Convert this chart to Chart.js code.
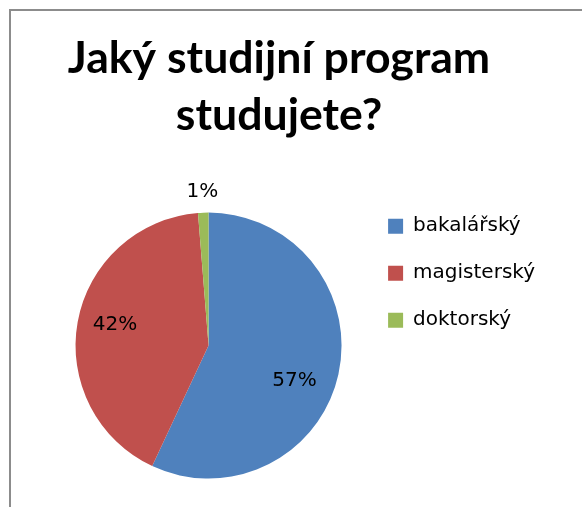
<!DOCTYPE html>
<html lang="cs">
<head>
  <meta charset="UTF-8" />
  <title>Jaký studijní program studujete?</title>
  <script src="https://cdn.jsdelivr.net/npm/chart.js"></script>
  <style>
    html, body { margin: 0; padding: 0; background: #fff; overflow: hidden; }
    .frame { position: absolute; left: 9px; top: 9px; width: 700px; height: 600px;
             border-left: 2px solid #8c8c8c; border-top: 2px solid #8c8c8c; }
    canvas { position: absolute; left: 0; top: 0; }
  </style>
</head>
<body>
  <div class="frame"></div>
  <canvas id="chart" width="582" height="507"></canvas>

  <script>
    // answers (respondent counts)
    const categories = ["bakalářský", "magisterský", "doktorský"];
    const counts = [45, 33, 1];
    const colors = ["#4F81BD", "#C0504D", "#9BBB59"];
    const titleLines = ["Jaký studijní program", "studujete?"];

    // trim the plot area on the left so the pie sits right of the title centre
    const leftGap = {
      id: "leftGap",
      afterLayout(chart, args, opts) {
        chart.chartArea.left += opts.width;
        chart.chartArea.width -= opts.width;
      }
    };

    // percent labels, placed on each slice by its own angle
    const pctLabels = {
      id: "pctLabels",
      afterDatasetsDraw(chart, args, opts) {
        const ctx = chart.ctx;
        const meta = chart.getDatasetMeta(0);
        const data = chart.data.datasets[0].data;
        const total = data.reduce((a, b) => a + b, 0);
        ctx.save();
        ctx.font = opts.font;
        ctx.fillStyle = "#000";
        ctx.textAlign = "center";
        ctx.textBaseline = "middle";
        meta.data.forEach((arc, i) => {
          const p = arc.getProps(["x", "y", "startAngle", "endAngle", "outerRadius"], true);
          const mid = (p.startAngle + p.endAngle) / 2 + opts.turn[i] * Math.PI / 180;
          const r = p.outerRadius * opts.radius[i];
          const txt = Math.round(data[i] / total * 100) + "%";
          ctx.fillText(txt, p.x + Math.cos(mid) * r, p.y + Math.sin(mid) * r);
        });
        ctx.restore();
      }
    };

    new Chart(document.getElementById("chart"), {
      type: "pie",
      data: {
        labels: categories,
        datasets: [{
          data: counts,
          backgroundColor: colors,
          borderWidth: 0,
          radius: 133
        }]
      },
      options: {
        responsive: false,
        animation: false,
        layout: { padding: { left: 13, right: 37, top: 0, bottom: 5 } },
        plugins: {
          title: {
            display: true,
            text: titleLines,
            color: "#000",
            font: { family: "Lato", weight: "bold", size: 44.6, lineHeight: 1.28 },
            padding: { top: 30, bottom: 45 }
          },
          legend: {
            position: "right",
            align: "start",
            fullSize: false,
            labels: {
              boxWidth: 15,
              boxHeight: 15,
              padding: 27,
              color: "#000",
              font: { family: "DejaVu Sans", size: 20 }
            }
          },
          tooltip: { enabled: false },
          leftGap: { width: 43 },
          pctLabels: {
            font: "20px 'DejaVu Sans'",
            radius: [0.70, 0.72, 1.16],
            turn: [10, 2, 0]
          }
        }
      },
      plugins: [leftGap, pctLabels]
    });
  </script>
</body>
</html>
